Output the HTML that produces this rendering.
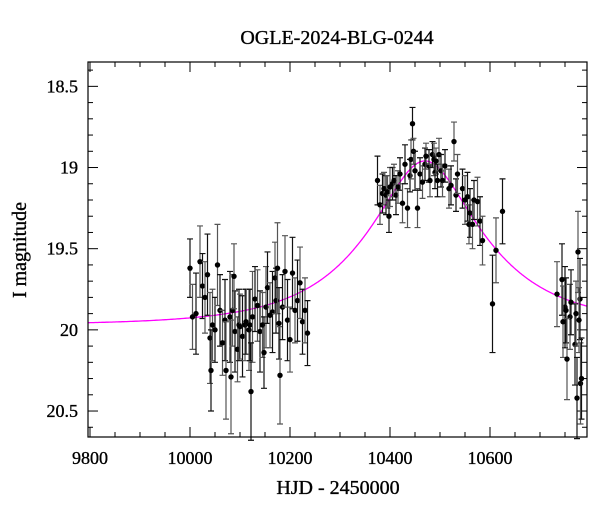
<!DOCTYPE html>
<html><head><meta charset="utf-8"><style>
body{margin:0;background:#fff}
svg text{font-family:"Liberation Serif",serif;fill:#000;stroke:#000;stroke-width:0.35}
</style></head><body>
<svg id="chart" width="600" height="512">
<text x="337" y="44" font-size="20" text-anchor="middle">OGLE-2024-BLG-0244</text>
<text x="338" y="494" font-size="20" text-anchor="middle">HJD - 2450000</text>
<text transform="translate(26,250) rotate(-90)" font-size="20" text-anchor="middle">I magnitude</text>
<g id="marks"></g>
<rect x="88" y="62" width="499" height="375" fill="none" stroke="#000" stroke-width="1.2"/>
</svg>
<script>
const hjd=[10000,10005,10012,10020,10025,10030,10035,10040,10042,10045,10050,10055,10060,10065,10070,10072,10080,10085,10090,10095,10098,10100,10105,10110,10112,10118,10120,10125,10130,10135,10140,10145,10148,10152,10155,10160,10165,10170,10172,10175,10178,10180,10185,10190,10195,10200,10205,10210,10215,10220,10225,10230,10235,10082,10122,10088,
10375,10380,10385,10388,10392,10395,10398,10400,10405,10408,10412,10416,10420,10425,10430,10435,10440,10442,10445,10447,10450,10455,10460,10465,10470,10472,10478,10480,10485,10488,10490,10492,10495,10498,10502,10505,10510,10518,10522,10528,10532,10535,10545,10550,10555,10558,10560,10565,10568,10575,10580,10585,10605,10612,10625,
10734,10744,10776,10750,10746,10752,10760,10762,10754,10770,10772,10780,10778,10774,10781,10783];
const mag=[19.62,19.92,19.90,19.58,19.73,19.80,19.66,20.05,20.25,19.97,20.00,19.60,19.88,20.08,19.94,20.25,19.92,19.88,20.01,20.12,19.97,19.98,20.04,19.97,19.95,20.00,19.97,19.92,19.81,19.85,20.01,19.97,20.14,19.86,19.74,19.91,19.89,19.68,19.82,19.62,19.96,20.28,19.86,19.64,19.94,20.06,19.65,19.88,19.82,19.71,19.95,19.88,20.02,20.29,20.38,19.67,
19.08,19.23,19.16,19.13,19.17,19.15,19.30,19.12,19.10,19.08,19.17,19.12,19.04,19.22,18.98,19.25,19.05,18.95,18.73,18.90,19.02,19.25,19.04,19.09,18.98,18.93,18.99,19.08,18.92,18.95,19.03,18.96,19.08,18.92,19.02,19.08,18.99,19.13,19.11,18.84,19.17,19.04,19.13,19.20,19.18,19.35,19.28,19.35,19.20,19.21,19.33,19.45,19.84,19.51,19.27,
19.78,19.69,19.52,19.86,19.95,19.88,19.92,19.83,20.18,20.09,19.90,19.81,19.94,20.42,20.33,20.30];
const err=[0.18,0.2,0.25,0.22,0.2,0.22,0.25,0.28,0.25,0.22,0.2,0.25,0.22,0.2,0.25,0.3,0.28,0.22,0.25,0.2,0.22,0.2,0.25,0.22,0.2,0.25,0.22,0.28,0.2,0.22,0.25,0.2,0.22,0.25,0.22,0.2,0.25,0.22,0.2,0.28,0.22,0.3,0.2,0.22,0.25,0.2,0.22,0.2,0.25,0.22,0.2,0.2,0.2,0.35,0.3,0.2,
0.15,0.12,0.12,0.1,0.12,0.1,0.1,0.12,0.1,0.1,0.12,0.1,0.1,0.12,0.12,0.12,0.1,0.12,0.1,0.08,0.12,0.12,0.1,0.1,0.1,0.08,0.1,0.1,0.08,0.1,0.1,0.08,0.1,0.1,0.1,0.1,0.1,0.12,0.12,0.12,0.1,0.12,0.12,0.15,0.15,0.12,0.15,0.15,0.12,0.15,0.15,0.15,0.3,0.2,0.2,
0.2,0.22,0.25,0.25,0.22,0.2,0.2,0.2,0.25,0.25,0.2,0.25,0.2,0.25,0.25,0.25];
const xTicks=[9800,10000,10200,10400,10600];
const yTicks=[18.5,19,19.5,20,20.5];
const model={t0:10470,tE:210,u0:0.42,base:19.97};

const X0=9796,X1=10794,Y0=18.35,Y1=20.66,L=88,R=587,T=62,B=437;
const sx=d=>L+(d-X0)/(X1-X0)*(R-L);
const sy=m=>T+(m-Y0)/(Y1-Y0)*(B-T);
const NS="http://www.w3.org/2000/svg";
const g=document.getElementById('marks');
function mk(tag,at){const e=document.createElementNS(NS,tag);for(const k in at)e.setAttribute(k,at[k]);g.appendChild(e);return e;}
for(let d=9800;d<=10790;d+=50){const maj=d%200===0;const l=maj?10:5;const x=sx(d);
 const t1=mk('line',{x1:x,x2:x,y1:B,y2:B-l,stroke:'#000'});
 const t2=mk('line',{x1:x,x2:x,y1:T,y2:T+l,stroke:'#000'});}
for(let i=0;i<=22;i++){const m=18.4+i*0.1;if(m>Y1)break;const maj=Math.abs(m*2-Math.round(m*2))<1e-6;const l=maj?10:5;const y=sy(m);
 const t1=mk('line',{x1:L,x2:L+l,y1:y,y2:y,stroke:'#000'});
 const t2=mk('line',{x1:R,x2:R-l,y1:y,y2:y,stroke:'#000'});}
xTicks.forEach(d=>{const t=mk('text',{x:sx(d),y:464,'font-size':18,'text-anchor':'middle'});t.textContent=d;
 });
yTicks.forEach(m=>{const t=mk('text',{x:78,y:sy(m)+6,'font-size':18,'text-anchor':'end'});t.textContent=String(m);
 });
let p='';for(let d=X0;d<=X1;d+=2){const tau=(d-model.t0)/model.tE;const u=Math.sqrt(tau*tau+model.u0*model.u0);
 const A=(u*u+2)/(u*Math.sqrt(u*u+4));const m=model.base-2.5*Math.log10(A);p+=(p?'L':'M')+sx(d).toFixed(1)+','+sy(m).toFixed(1);}
const curve=mk('path',{d:p,fill:'none',stroke:'#ff00ff','stroke-width':1.3});


hjd.forEach((d,i)=>{const x=sx(d),y=sy(mag[i]),y1=sy(mag[i]-err[i]),y2=sy(mag[i]+err[i]);
 const e=mk('path',{d:`M${x},${y1}V${y2}M${x-3},${y1}H${x+3}M${x-3},${y2}H${x+3}`,stroke:i%2?'#555':'#111','stroke-width':1.2,fill:'none'});
 
 const c=mk('circle',{cx:x,cy:y,r:2.7,fill:'#000'});
 });
</script>
</body></html>
